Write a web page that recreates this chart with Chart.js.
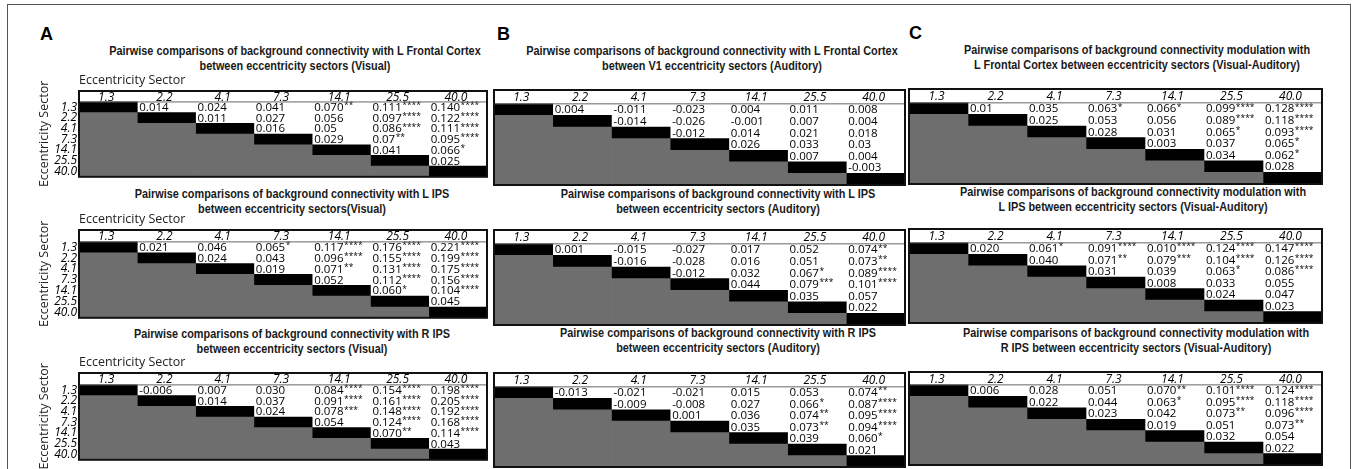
<!DOCTYPE html>
<html>
<head>
<meta charset="utf-8">
<script src="https://cdn.jsdelivr.net/npm/chart.js@4/dist/chart.umd.min.js"></script>
<style>
  body { margin: 0; width: 1356px; height: 469px; overflow: hidden; position: relative; background: #fff; font-family: "Open Sans", sans-serif; }
  #frame { position: absolute; left: 7px; top: 4px; width: 1344px; height: 480px; border: 1.5px solid #555; box-sizing: border-box; }
  .letter { position: absolute; font: bold 18px "Liberation Sans", Arial, sans-serif; color: #000; }
  .title { position: absolute; transform: translateX(-50%) scaleX(0.87); text-align: center; white-space: nowrap;
           font-family: "Liberation Sans", sans-serif; font-weight: bold; font-size: 12.5px; line-height: 15px; color: #1a1a1a; }
  .tbl { position: absolute; }
</style>
</head>
<body>
<div id="frame"></div>
<script>
// eccentricity sectors (columns and rows)
const sectors = ['1.3', '2.2', '4.1', '7.3', '14.1', '25.5', '40.0'];

// upper triangle values, one row per sector (row i holds columns i+1..6)
const aFrontal = [
  ['0.014', '0.024', '0.041', '0.070**', '0.111****', '0.140****'],
  ['0.011', '0.027', '0.056', '0.097****', '0.122****'],
  ['0.016', '0.05', '0.086****', '0.111****'],
  ['0.029', '0.07**', '0.095****'],
  ['0.041', '0.066*'],
  ['0.025'],
  []
];
const aLIPS = [
  ['0.021', '0.046', '0.065*', '0.117****', '0.176****', '0.221****'],
  ['0.024', '0.043', '0.096****', '0.155****', '0.199****'],
  ['0.019', '0.071**', '0.131****', '0.175****'],
  ['0.052', '0.112****', '0.156****'],
  ['0.060*', '0.104****'],
  ['0.045'],
  []
];
const aRIPS = [
  ['-0.006', '0.007', '0.030', '0.084****', '0.154****', '0.198****'],
  ['0.014', '0.037', '0.091****', '0.161****', '0.205****'],
  ['0.024', '0.078***', '0.148****', '0.192****'],
  ['0.054', '0.124****', '0.168****'],
  ['0.070**', '0.114****'],
  ['0.043'],
  []
];
const bFrontal = [
  ['0.004', '-0.011', '-0.023', '0.004', '0.011', '0.008'],
  ['-0.014', '-0.026', '-0.001', '0.007', '0.004'],
  ['-0.012', '0.014', '0.021', '0.018'],
  ['0.026', '0.033', '0.03'],
  ['0.007', '0.004'],
  ['-0.003'],
  []
];
const bLIPS = [
  ['0.001', '-0.015', '-0.027', '0.017', '0.052', '0.074**'],
  ['-0.016', '-0.028', '0.016', '0.051', '0.073**'],
  ['-0.012', '0.032', '0.067*', '0.089****'],
  ['0.044', '0.079***', '0.101****'],
  ['0.035', '0.057'],
  ['0.022'],
  []
];
const bRIPS = [
  ['-0.013', '-0.021', '-0.021', '0.015', '0.053', '0.074**'],
  ['-0.009', '-0.008', '0.027', '0.066*', '0.087****'],
  ['0.001', '0.036', '0.074**', '0.095****'],
  ['0.035', '0.073**', '0.094****'],
  ['0.039', '0.060*'],
  ['0.021'],
  []
];
const cFrontal = [
  ['0.01', '0.035', '0.063*', '0.066*', '0.099****', '0.128****'],
  ['0.025', '0.053', '0.056', '0.089****', '0.118****'],
  ['0.028', '0.031', '0.065*', '0.093****'],
  ['0.003', '0.037', '0.065*'],
  ['0.034', '0.062*'],
  ['0.028'],
  []
];
const cLIPS = [
  ['0.020', '0.061*', '0.091****', '0.010****', '0.124****', '0.147****'],
  ['0.040', '0.071**', '0.079***', '0.104****', '0.126****'],
  ['0.031', '0.039', '0.063*', '0.086****'],
  ['0.008', '0.033', '0.055'],
  ['0.024', '0.047'],
  ['0.023'],
  []
];
const cRIPS = [
  ['0.006', '0.028', '0.051', '0.070**', '0.101****', '0.124****'],
  ['0.022', '0.044', '0.063*', '0.095****', '0.118****'],
  ['0.023', '0.042', '0.073**', '0.096****'],
  ['0.019', '0.051', '0.073**'],
  ['0.032', '0.054'],
  ['0.022'],
  []
];

const titleA = [
  ['Pairwise comparisons of background connectivity with L Frontal Cortex', 'between eccentricity sectors (Visual)'],
  ['Pairwise comparisons of background connectivity with L IPS', 'between eccentricity sectors(Visual)'],
  ['Pairwise comparisons of background connectivity with R IPS', 'between eccentricity sectors (Visual)']
];
const titleB = [
  ['Pairwise comparisons of background connectivity with L Frontal Cortex', 'between V1 eccentricity sectors (Auditory)'],
  ['Pairwise comparisons of background connectivity with L IPS', 'between eccentricity sectors (Auditory)'],
  ['Pairwise comparisons of background connectivity with R IPS', 'between eccentricity sectors (Auditory)']
];
const titleC = [
  ['Pairwise comparisons of background connectivity modulation with', 'L Frontal Cortex between eccentricity sectors (Visual-Auditory)'],
  ['Pairwise comparisons of background connectivity modulation with', 'L IPS between eccentricity sectors (Visual-Auditory)'],
  ['Pairwise comparisons of background connectivity modulation with', 'R IPS between eccentricity sectors (Visual-Auditory)']
];

const GRAY = '#6e6e6e';
const FONT = '"Open Sans", sans-serif';

// panel letters
[['A', 40, 24], ['B', 497, 24], ['C', 909, 23]].forEach(([t, x, y]) => {
  const d = document.createElement('div');
  d.className = 'letter';
  d.textContent = t;
  d.style.left = x + 'px';
  d.style.top = y + 'px';
  document.body.appendChild(d);
});

// titles: [lines, centre x, first line centre y]
const titleSpots = [
  [titleA[0], 295, 51], [titleB[0], 712, 51], [titleC[0], 1137, 50],
  [titleA[1], 292, 194], [titleB[1], 718, 194], [titleC[1], 1133, 192],
  [titleA[2], 292, 334], [titleB[2], 718, 333], [titleC[2], 1136, 333]
];
titleSpots.forEach(([lines, cx, cy]) => {
  const d = document.createElement('div');
  d.className = 'title';
  d.innerHTML = lines.join('<br>');
  d.style.left = cx + 'px';
  d.style.top = (cy - 7.5) + 'px';
  document.body.appendChild(d);
});

// draws header labels, cell values, header rule and frame
const tablePlugin = {
  id: 'tableText',
  afterDatasetsDraw(chart, args, opts) {
    const { ctx, chartArea: a, scales: { x, y } } = chart;
    const colW = x.getPixelForValue(1) - x.getPixelForValue(0);
    const headBottom = y.getPixelForValue(0);
    ctx.save();
    ctx.fillStyle = '#000';
    ctx.textBaseline = 'middle';

    // column header
    ctx.font = 'italic 12px ' + FONT;
    ctx.textAlign = 'center';
    sectors.forEach((s, j) => ctx.fillText(s, x.getPixelForValue(j) - 2, (a.top + headBottom) / 2 + 1));

    // values
    ctx.textAlign = 'left';
    opts.values.forEach((row, i) => row.forEach((v, k) => {
      const j = i + 1 + k;
      const m = v.match(/^(-?[\d.]+)(\**)$/);
      const px = x.getPixelForValue(j) - colW / 2 + 2;
      const py = y.getPixelForValue(i + 0.5) + 0.5;
      ctx.font = '11.5px ' + FONT;
      ctx.fillText(m[1], px, py);
      if (m[2]) {
        const w = ctx.measureText(m[1]).width;
        ctx.font = '8.5px ' + FONT;
        ctx.fillText(m[2], px + w + 0.5, py - 2);
      }
    }));

    // header rule
    ctx.strokeStyle = '#666';
    ctx.lineWidth = 1;
    ctx.beginPath();
    ctx.moveTo(a.left, headBottom);
    ctx.lineTo(a.right, headBottom);
    ctx.stroke();

    // frame
    ctx.strokeStyle = '#111';
    ctx.lineWidth = 2;
    ctx.strokeRect(a.left, a.top, a.right - a.left, a.bottom - a.top);
    ctx.restore();
  }
};

function makeTable(values, box, axes) {
  const padL = axes ? 50 : 1;
  const padT = axes ? 18 : 1;
  const wrap = document.createElement('div');
  wrap.className = 'tbl';
  wrap.style.left = (box.left - padL) + 'px';
  wrap.style.top = (box.top - padT) + 'px';
  wrap.style.width = (box.right - box.left + padL + 1) + 'px';
  wrap.style.height = (box.bottom - box.top + padT + 1) + 'px';
  const canvas = document.createElement('canvas');
  wrap.appendChild(canvas);
  document.body.appendChild(wrap);

  const rowH = (box.bottom - box.head) / sectors.length;
  const headRows = (box.head - box.top) / rowH;

  new Chart(canvas, {
    type: 'bar',
    data: {
      labels: sectors,
      datasets: [
        // lower triangle (grey)
        { data: sectors.map((s, j) => j < sectors.length - 1 ? [j + 1, sectors.length] : null), backgroundColor: GRAY },
        // diagonal (black)
        { data: sectors.map((s, j) => [j, j + 1]), backgroundColor: '#000' }
      ]
    },
    options: {
      responsive: true,
      maintainAspectRatio: false,
      animation: false,
      events: [],
      layout: { padding: { left: axes ? 0 : 1, top: axes ? 0 : 1, right: 1, bottom: 1 } },
      datasets: { bar: { barPercentage: 1, categoryPercentage: 1, borderWidth: 0, grouped: false } },
      plugins: {
        legend: { display: false },
        tooltip: { enabled: false },
        tableText: { values: values }
      },
      scales: {
        x: {
          position: 'top',
          display: axes,
          grid: { display: false, drawTicks: false },
          border: { display: false },
          ticks: { display: false },
          title: { display: true, text: 'Eccentricity Sector', align: 'start', color: '#222',
                   font: { family: FONT, size: 12.5 }, padding: { top: 0, bottom: 0 } },
          afterFit: s => { s.height = padT; }
        },
        y: {
          min: -headRows,
          max: sectors.length,
          reverse: true,
          display: axes,
          grid: { display: false, drawTicks: false },
          border: { display: false },
          afterBuildTicks: s => { s.ticks = sectors.map((_, i) => ({ value: i + 0.5 })); },
          ticks: { autoSkip: false, padding: 2, color: '#000', font: { family: FONT, size: 12, style: 'italic' },
                   callback: (v, i) => sectors[i] },
          title: { display: true, text: 'Eccentricity Sector', color: '#222',
                   font: { family: FONT, size: 12.5 }, padding: { top: 8, bottom: 0 } },
          afterFit: s => { s.width = padL; }
        }
      }
    },
    plugins: [tablePlugin]
  });
}

// table boxes: left/right, frame top, header bottom, frame bottom
const colA = { left: 79, right: 487 };
const colB = { left: 493, right: 905 };
const colC = { left: 908, right: 1322 };

makeTable(aFrontal, { ...colA, top: 91, head: 103, bottom: 185 }, true);
makeTable(bFrontal, { ...colB, top: 89, head: 103, bottom: 185 }, false);
makeTable(cFrontal, { ...colC, top: 88, head: 102, bottom: 184 }, false);
makeTable(aLIPS, { ...colA, top: 230, head: 243, bottom: 326 }, true);
makeTable(bLIPS, { ...colB, top: 229, head: 243, bottom: 325 }, false);
makeTable(cLIPS, { ...colC, top: 228, head: 242, bottom: 323 }, false);
makeTable(aRIPS, { ...colA, top: 373, head: 386, bottom: 468 }, true);
makeTable(bRIPS, { ...colB, top: 372, head: 386, bottom: 467 }, false);
makeTable(cRIPS, { ...colC, top: 371, head: 384, bottom: 465 }, false);
</script>
</body>
</html>
